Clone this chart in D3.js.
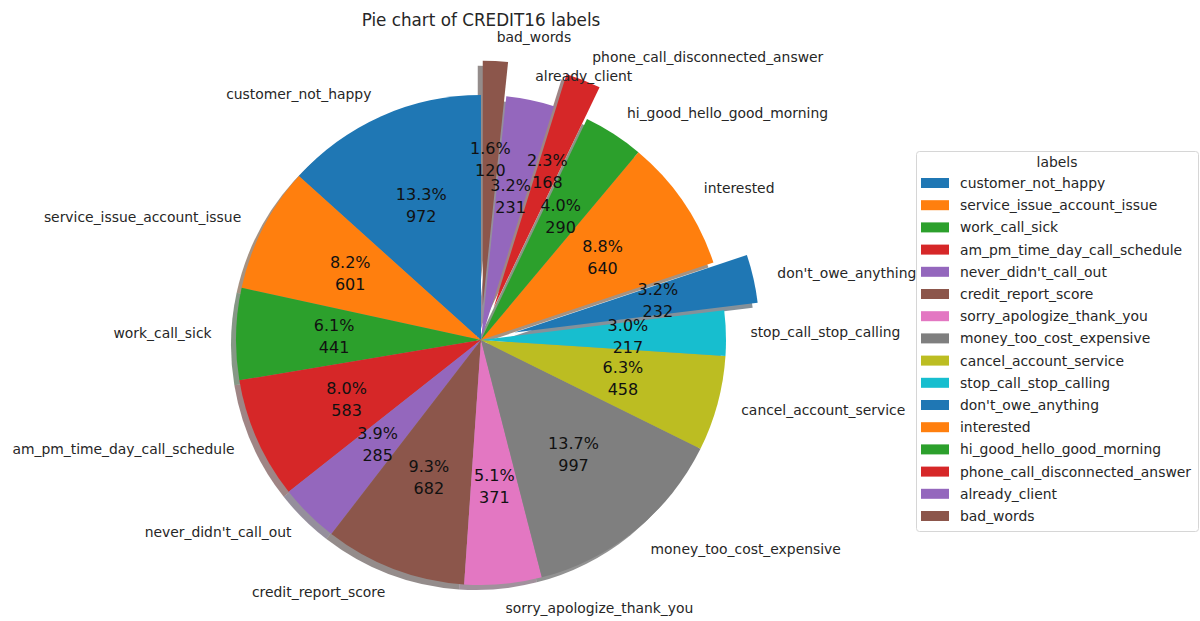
<!DOCTYPE html>
<html>
<head>
<meta charset="utf-8">
<script src="https://cdn.jsdelivr.net/npm/d3@7"></script>
<style>
  body { margin: 0; background: #fff; }
  svg { font-family: "DejaVu Sans", sans-serif; }
</style>
</head>
<body>
<svg id="chart" width="1200" height="621"></svg>
<script>
// Data
const labels = [
  "customer_not_happy", "service_issue_account_issue", "work_call_sick",
  "am_pm_time_day_call_schedule", "never_didn't_call_out", "credit_report_score",
  "sorry_apologize_thank_you", "money_too_cost_expensive", "cancel_account_service",
  "stop_call_stop_calling", "don't_owe_anything", "interested",
  "hi_good_hello_good_morning", "phone_call_disconnected_answer", "already_client", "bad_words"
];
const counts = [972, 601, 441, 583, 285, 682, 371, 997, 458, 217, 232, 640, 290, 168, 231, 120];
// percentages as printed on the wedges
const percentLabels = ["13.3%", "8.2%", "6.1%", "8.0%", "3.9%", "9.3%", "5.1%", "13.7%",
                       "6.3%", "3.0%", "3.2%", "8.8%", "4.0%", "2.3%", "3.2%", "1.6%"];
const explode = [0, 0, 0, 0, 0, 0, 0, 0, 0, 0, 0.14, 0, 0, 0.14, 0, 0.14];
const palette = ["#1f77b4", "#ff7f0e", "#2ca02c", "#d62728", "#9467bd",
                 "#8c564b", "#e377c2", "#7f7f7f", "#bcbd22", "#17becf"];

const data = labels.map((name, i) => ({ name, value: counts[i], pct: percentLabels[i], explode: explode[i], i }));

const svg = d3.select("#chart");
const cx = 481, cy = 340, r = 245;

const color = d3.scaleOrdinal().domain(d3.range(labels.length)).range(palette);

// matplotlib style: start at top, go counterclockwise
const pie = d3.pie().value(d => d.value).sort(null).startAngle(0).endAngle(-2 * Math.PI);
const arcs = pie(data);
const arc = d3.arc().innerRadius(0).outerRadius(r);

// offset of the exploded wedge along its mid angle
const offset = a => {
  const mid = (a.startAngle + a.endAngle) / 2;
  const d = a.data.explode * r;
  return [d * Math.sin(mid), -d * Math.cos(mid)];
};

const g = svg.append("g").attr("transform", `translate(${cx},${cy})`);

// Shadows first (behind all wedges)
g.append("g")
  .selectAll("path")
  .data(arcs)
  .join("path")
  .attr("transform", d => { const [ox, oy] = offset(d); return `translate(${ox - 5},${oy + 5})`; })
  .attr("d", arc)
  .attr("fill", d => { const c = d3.rgb(color(d.data.i)); return d3.rgb(c.r * 0.3, c.g * 0.3, c.b * 0.3); })
  .attr("fill-opacity", 0.5);

// Wedges
g.append("g")
  .selectAll("path")
  .data(arcs)
  .join("path")
  .attr("transform", d => { const [ox, oy] = offset(d); return `translate(${ox},${oy})`; })
  .attr("d", arc)
  .attr("fill", d => color(d.data.i));

// Outer labels
g.append("g")
  .selectAll("text")
  .data(arcs)
  .join("text")
  .each(function (d) {
    const mid = (d.startAngle + d.endAngle) / 2;
    const [ox, oy] = offset(d);
    const x = ox + 1.1 * r * Math.sin(mid);
    const y = oy - 1.1 * r * Math.cos(mid);
    d3.select(this)
      .attr("x", x)
      .attr("y", y)
      .attr("dy", "0.36em")
      .attr("text-anchor", x > 0 ? "start" : "end");
  })
  .style("font-size", "13.9px")
  .style("fill", "#262626")
  .text(d => d.data.name);

// Percent + count labels
const pct = g.append("g")
  .selectAll("text")
  .data(arcs)
  .join("text")
  .attr("text-anchor", "middle")
  .style("font-size", "16px")
  .style("fill", "#111");

pct.each(function (d) {
  const mid = (d.startAngle + d.endAngle) / 2;
  const [ox, oy] = offset(d);
  const x = ox + 0.6 * r * Math.sin(mid);
  const y = oy - 0.6 * r * Math.cos(mid);
  const t = d3.select(this);
  t.append("tspan").attr("x", x).attr("y", y - 11).attr("dy", "0.36em").text(d.data.pct);
  t.append("tspan").attr("x", x).attr("y", y + 11).attr("dy", "0.36em").text(d.data.value);
});

// Title
svg.append("text")
  .attr("x", 481)
  .attr("y", 26)
  .attr("text-anchor", "middle")
  .style("font-size", "16.8px")
  .style("fill", "#262626")
  .text("Pie chart of CREDIT16 labels");

// Legend
const legend = svg.append("g").attr("transform", "translate(916,151)");
legend.append("rect")
  .attr("x", 0.5).attr("y", 0.5)
  .attr("width", 282).attr("height", 380)
  .attr("rx", 3)
  .attr("fill", "#fff")
  .attr("fill-opacity", 0.8)
  .attr("stroke", "#d6d6d6");

legend.append("text")
  .attr("x", 141)
  .attr("y", 11)
  .attr("dy", "0.36em")
  .attr("text-anchor", "middle")
  .style("font-size", "13.9px")
  .style("fill", "#262626")
  .text("labels");

const rows = legend.selectAll("g.row")
  .data(data)
  .join("g")
  .attr("class", "row")
  .attr("transform", (d, i) => `translate(0,${32 + i * 22.2})`);

rows.append("rect")
  .attr("x", 5).attr("y", -5)
  .attr("width", 28).attr("height", 10)
  .attr("fill", d => color(d.i));

rows.append("text")
  .attr("x", 44)
  .attr("y", 0)
  .attr("dy", "0.36em")
  .style("font-size", "13.9px")
  .style("fill", "#262626")
  .text(d => d.name);
</script>
</body>
</html>
